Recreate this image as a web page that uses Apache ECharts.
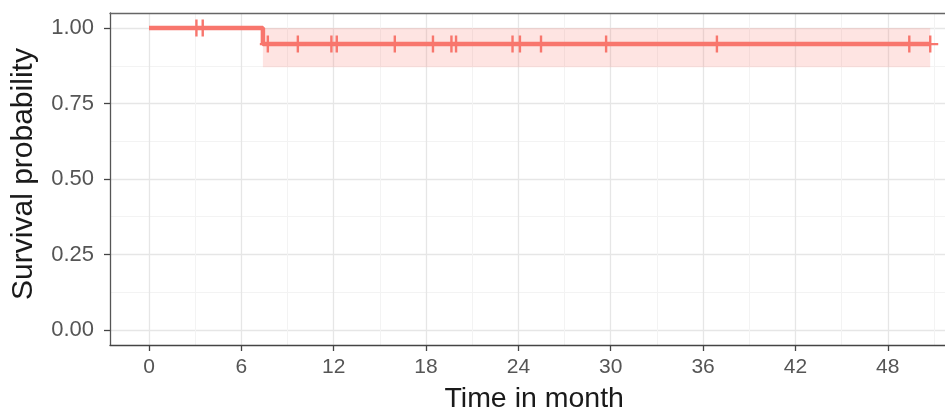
<!DOCTYPE html>
<html>
<head>
<meta charset="utf-8">
<script src="https://cdn.jsdelivr.net/npm/echarts@6/dist/echarts.min.js"></script>
<style>
html,body{margin:0;padding:0;background:#fff;}
#chart{width:945px;height:410px;}
</style>
</head>
<body>
<div id="chart"></div>
<script>
// Kaplan-Meier curve (time in months, survival probability)
const kmTimes = [0, 7.4, 50.76];
const kmSurvival = [1.0, 0.947, 0.947];
// confidence band (interval start, interval end, lower, upper)
const ciStart = [7.4];
const ciEnd = [50.76];
const ciLower = [0.87];
const ciUpper = [1.0];
// censored observations
const censorTimes = [3.08, 3.49, 7.72, 9.67, 11.85, 12.2, 15.97, 18.45, 19.65, 19.95, 23.62, 24.1, 25.47, 29.7, 36.9, 49.4, 50.76];
const censorSurvival = [1.0, 1.0, 0.947, 0.947, 0.947, 0.947, 0.947, 0.947, 0.947, 0.947, 0.947, 0.947, 0.947, 0.947, 0.947, 0.947, 0.947];
// axis ticks
const xTicks = [0, 6, 12, 18, 24, 30, 36, 42, 48];
const xMinorTicks = [3, 9, 15, 21, 27, 33, 39, 45, 51];
const yTicks = [0, 0.25, 0.5, 0.75, 1.0];
const yMinorTicks = [0.125, 0.375, 0.625, 0.875];

const red = '#F8766D';
const chart = echarts.init(document.getElementById('chart'), null, {renderer: 'canvas'});

const zip = (a, b) => a.map((v, i) => [v, b[i]]);

const option = {
  animation: false,
  backgroundColor: '#fff',
  grid: {left: 110, right: -23.4, top: 13, bottom: 65, containLabel: false, outerBoundsMode: 'none'},
  xAxis: [{
    type: 'value', position: 'bottom',
    min: -2.535, max: 53.24,
    name: 'Time in month', nameLocation: 'middle', nameGap: 40,
    nameTextStyle: {fontFamily: 'Liberation Sans', fontSize: 28.5, color: '#1a1a1a', padding: [0, 10, 0, 0]},
    axisLine: {show: true, onZero: false, lineStyle: {color: '#444', width: 1.3}},
    axisTick: {show: true, length: 6, customValues: xTicks, lineStyle: {color: '#444', width: 1.3}},
    axisLabel: {customValues: xTicks, margin: 12, fontFamily: 'Liberation Sans', fontSize: 21, color: '#555'},
    splitLine: {show: true, lineStyle: {color: '#e6e6e6', width: 1.3}}
  }, {
    type: 'value', position: 'top',
    min: -2.535, max: 53.24,
    axisLine: {show: true, onZero: false, lineStyle: {color: '#666', width: 1.4}},
    axisTick: {show: false, customValues: xMinorTicks},
    axisLabel: {show: false},
    splitLine: {show: true, lineStyle: {color: '#f3f3f3', width: 1}}
  }],
  yAxis: [{
    type: 'value', position: 'left',
    min: -0.05, max: 1.05,
    name: 'Survival probability', nameLocation: 'middle', nameGap: 71,
    nameTextStyle: {fontFamily: 'Liberation Sans', fontSize: 30, color: '#1a1a1a', padding: [0, 0, 0, 10]},
    axisLine: {show: true, onZero: false, lineStyle: {color: '#555', width: 1.3}},
    axisTick: {show: true, length: 6, customValues: yTicks, lineStyle: {color: '#444', width: 1.3}},
    axisLabel: {customValues: yTicks, margin: 16, fontFamily: 'Liberation Sans', fontSize: 22, color: '#555',
      formatter: v => v.toFixed(2)},
    splitLine: {show: true, lineStyle: {color: '#e6e6e6', width: 1.3}}
  }, {
    type: 'value', position: 'right',
    min: -0.05, max: 1.05,
    axisLine: {show: false},
    axisTick: {show: false, customValues: yMinorTicks},
    axisLabel: {show: false},
    splitLine: {show: true, lineStyle: {color: '#f3f3f3', width: 1}}
  }],
  series: [{
    type: 'custom', silent: true, z: 1,
    data: ciStart.map((s, i) => [s, ciEnd[i], ciLower[i], ciUpper[i]]),
    encode: {x: [0, 1], y: [2, 3]},
    renderItem: (params, api) => {
      const p1 = api.coord([api.value(0), api.value(3)]);
      const p2 = api.coord([api.value(1), api.value(2)]);
      return {
        type: 'rect',
        shape: {x: p1[0], y: p1[1], width: p2[0] - p1[0], height: p2[1] - p1[1]},
        style: {fill: 'rgba(248,118,109,0.2)'}
      };
    }
  }, {
    type: 'line', step: 'end', symbol: 'none', silent: true,
    data: zip(kmTimes, kmSurvival),
    lineStyle: {color: red, width: 4.5}, z: 3
  }, {
    type: 'scatter', silent: true,
    data: zip(censorTimes, censorSurvival),
    symbol: 'path://M-1.2,-8 L1.2,-8 L1.2,-1 L8,-1 L8,1 L1.2,1 L1.2,8 L-1.2,8 L-1.2,1 L-8,1 L-8,-1 L-1.2,-1 Z',
    symbolSize: [16, 17],
    itemStyle: {color: red, opacity: 1}, z: 4
  }]
};
chart.setOption(option);
</script>
</body>
</html>
